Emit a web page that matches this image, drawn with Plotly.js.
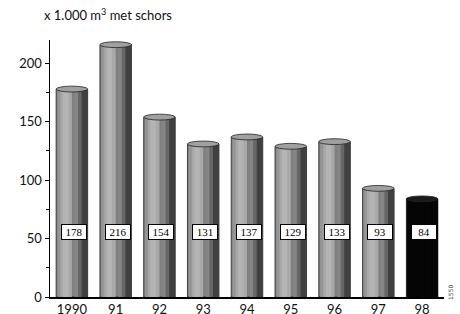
<!DOCTYPE html>
<html><head><meta charset="utf-8">
<script src="https://cdn.plot.ly/plotly-3.0.1.min.js"></script>
<style>body{margin:0;background:#fff}#c{width:460px;height:314px}</style>
</head><body><div id="c"></div>
<script>
const years = ["1990","91","92","93","94","95","96","97","98"];
const values = [178,216,154,131,137,129,133,93,84];
const labelY = 56;

const n = years.length;
const last = n - 1;
const pick = (a, b) => years.map((_, i) => i === last ? b : a);
const W = 0.72;

// cylinder shading strips: [offset, width, color]
const strips = [
  [-W/2, W, '#808080'],
  [-0.33, 0.08, '#959595'],
  [-0.26, 0.26, '#a8a8a8'],
  [-0.20, 0.12, '#b4b4b4'],
  [0.06, 0.10, '#858585'],
  [0.14, 0.08, '#666666'],
  [0.22, 0.14, '#404040']
];
const traces = strips.map(([off, w, c], k) => ({type:'bar', x:years, y:values, width:w, offset:off,
  marker:{color:pick(c, '#050505'), line:{width:k===0?0.8:0, color:'#222'}},
  hoverinfo:'skip', showlegend:false}));

const shapes = values.map((v,i)=>({type:'circle', xref:'x', yref:'y',
  x0:i-W/2, x1:i+W/2, y0:v-2.5, y1:v+2.5,
  fillcolor: i===last ? '#1a1a1a' : '#a0a0a0', line:{color:'#222', width:0.8}}));

const annotations = values.map((v,i)=>({x:i, y:labelY, text:String(v), showarrow:false,
  xshift:2, bgcolor:'#fff', bordercolor:'#000', borderwidth:1, borderpad:1, width:22,
  font:{family:'Liberation Serif, serif', size:11, color:'#000'}}));
annotations.push({xref:'paper', yref:'paper', x:0, xanchor:'left', xshift:-8, y:1, yshift:26,
  yanchor:'middle', showarrow:false, text:'x 1.000 m<sup>3</sup> met schors',
  font:{family:'Lato, sans-serif', size:13, color:'#111'}});
annotations.push({xref:'paper', yref:'paper', x:1, xshift:12, y:0, yshift:-5, showarrow:false,
  textangle:-90, text:'1550', font:{family:'DejaVu Sans', size:6, color:'#333'}});

const layout = {
  width:460, height:314, margin:{l:50, r:16, t:40, b:17},
  paper_bgcolor:'#fff', plot_bgcolor:'#fff',
  barmode:'overlay',
  font:{family:'Lato, sans-serif', color:'#111'},
  xaxis:{type:'category', range:[-0.5, n-0.5], showline:true, linecolor:'#000', linewidth:1.5,
    ticks:'', showgrid:false, tickfont:{size:13}, zeroline:false},
  yaxis:{range:[0,220], showline:true, linecolor:'#000', linewidth:1.5, ticks:'outside',
    ticklen:4, tickcolor:'#000', tickvals:[0,50,100,150,200], showgrid:false, zeroline:false,
    tickfont:{size:13},
    minor:{tickvals:[25,75,125,175], ticks:'outside', ticklen:3, tickcolor:'#000'}},
  shapes, annotations
};
Plotly.newPlot('c', traces, layout, {displayModeBar:false, staticPlot:true});
</script></body></html>
